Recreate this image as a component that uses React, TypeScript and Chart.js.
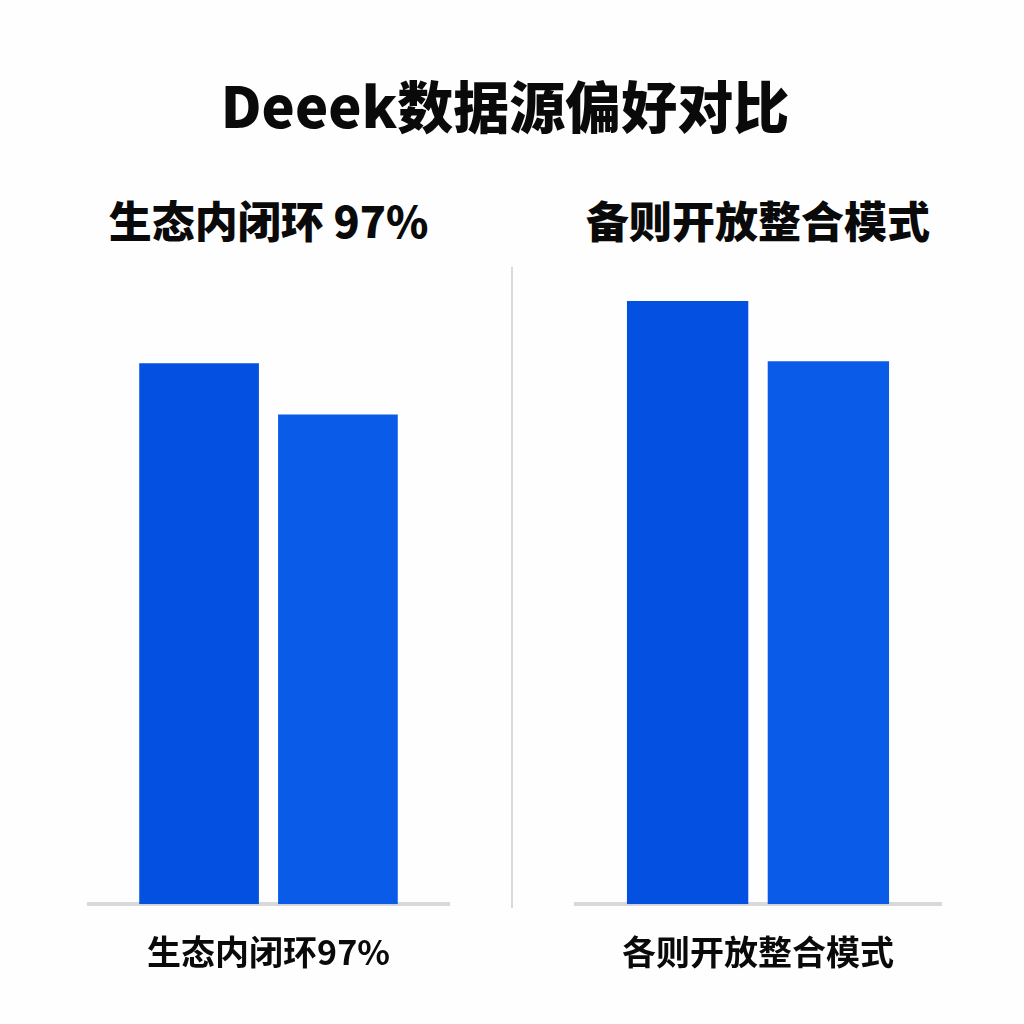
import { useEffect, useRef } from 'react';
import { Chart, registerables } from 'chart.js';

Chart.register(...registerables);

// panel data (tallest bar = 100)
const categories = ['生态内闭环97%', '各则开放整合模式'];
const panelTitles = ['生态内闭环 97%', '备则开放整合模式'];
const firstBar = [89.7, 100];
const secondBar = [81.2, 90];

const FONT = '"Noto Sans CJK SC", "Noto Sans", sans-serif';

interface PanelProps {
  index: number;
  left: number;
  width: number;
}

function Panel({ index, left, width }: PanelProps) {
  const canvasRef = useRef<HTMLCanvasElement | null>(null);
  const chartRef = useRef<Chart | null>(null);

  useEffect(() => {
    if (!canvasRef.current) return;
    if (chartRef.current) chartRef.current.destroy();

    chartRef.current = new Chart(canvasRef.current, {
      type: 'bar',
      data: {
        labels: [categories[index]],
        datasets: [
          {
            data: [firstBar[index]],
            backgroundColor: '#0450e0',
            categoryPercentage: 0.765,
            barPercentage: 0.862,
          },
          {
            data: [secondBar[index]],
            backgroundColor: '#0a5be8',
            categoryPercentage: 0.765,
            barPercentage: 0.862,
          },
        ],
      },
      options: {
        animation: false,
        responsive: true,
        maintainAspectRatio: false,
        layout: { padding: { top: 10 } },
        plugins: {
          legend: { display: false },
          tooltip: { enabled: false },
        },
        scales: {
          y: { display: false, min: 0, max: 100 },
          x: {
            grid: { display: false },
            border: { display: true, color: '#d9d9d9', width: 4 },
            ticks: {
              color: '#0a0a0a',
              padding: 19,
              font: { family: FONT, size: 34, weight: 'bold' },
            },
          },
        },
      },
    });

    return () => {
      if (chartRef.current) {
        chartRef.current.destroy();
        chartRef.current = null;
      }
    };
  }, [index]);

  return (
    <>
      <div
        style={{
          position: 'absolute',
          left,
          width,
          top: 193,
          height: 52,
          lineHeight: '52px',
          textAlign: 'center',
          fontFamily: FONT,
          fontWeight: 900,
          fontSize: 43,
          color: '#0a0a0a',
          whiteSpace: 'nowrap',
        }}
      >
        {panelTitles[index]}
      </div>
      <div style={{ position: 'absolute', left, width, top: 291, height: 700 }}>
        <canvas ref={canvasRef} />
      </div>
    </>
  );
}

export default function App() {
  return (
    <div
      style={{
        position: 'absolute',
        left: 0,
        top: 0,
        width: 1024,
        height: 1024,
        background: '#fefefe',
        overflow: 'hidden',
      }}
    >
      <div
        style={{
          position: 'absolute',
          left: 0,
          width: 1010,
          top: 72,
          height: 64,
          lineHeight: '64px',
          textAlign: 'center',
          fontFamily: FONT,
          fontWeight: 900,
          fontSize: 56,
          color: '#0a0a0a',
        }}
      >
        Deeek数据源偏好对比
      </div>
      <div
        style={{
          position: 'absolute',
          left: 511,
          top: 267,
          width: 2,
          height: 641,
          background: '#d9d9d9',
        }}
      />
      <Panel index={0} left={87} width={363} />
      <Panel index={1} left={574} width={368} />
    </div>
  );
}
